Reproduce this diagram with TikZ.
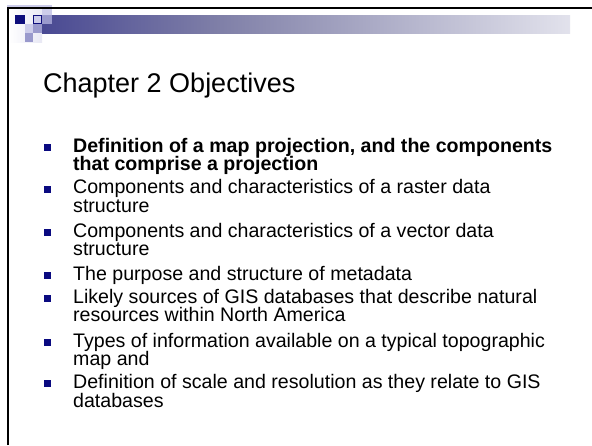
\documentclass[tikz,border=0pt]{standalone}
\usepackage{fontspec}
\setmainfont{Liberation Sans}
\definecolor{navy}{RGB}{14,14,124}
\definecolor{bulletnavy}{RGB}{10,10,128}
\definecolor{lilac}{RGB}{204,204,234}
\definecolor{lilacmid}{RGB}{153,153,204}
\definecolor{lilacpale}{RGB}{232,232,244}
\definecolor{barmid}{RGB}{128,128,168}
\definecolor{barpale}{RGB}{226,226,236}
\pgfdeclarehorizontalshading{barshade}{100bp}{color(0bp)=(navy); color(10bp)=(navy!90!barmid); color(42bp)=(barmid); color(75bp)=(barpale); color(100bp)=(white)}
\begin{document}
\begin{tikzpicture}[x=1pt,y=-1pt,
  titletext/.style={anchor=base west, inner sep=0pt, font=\fontsize{27}{30}\selectfont},
  itemtext/.style={anchor=base west, inner sep=0pt, font=\fontsize{19.6}{20}\selectfont},
  bolditem/.style={anchor=base west, inner sep=0pt, font=\fontsize{19.6}{20}\selectfont\bfseries},
  bulletsq/.style={fill=bulletnavy, draw=none, minimum size=7pt, inner sep=0pt}]
\useasboundingbox[fill=white] (0,0) rectangle (592,445);

% header ornament: pale corner field, gradient bar and tiles
\fill[left color=white, right color=lilacpale] (8.5,8.5) rectangle (42,42);
\fill[lilac] (7,4.5) rectangle (42,6.5);
\shade[shading=barshade] (42,15) rectangle (570,33);
\fill[lilac] (42,5) rectangle (52,15);
\fill[navy] (15,15) rectangle (25,24);
\fill[lilac, draw=navy, line width=0.8pt] (33.4,15.4) rectangle (41.6,23.6);
\fill[lilacmid] (42,15) rectangle (52,24);
\fill[lilac] (25,24) rectangle (33,33);
\fill[lilacmid] (33,24) rectangle (42,33);
\fill[lilacmid] (25,33) rectangle (33,42);

% frame lines
\draw[line width=2pt] (7.5,445) -- (7.5,7.5) -- (592,7.5);

% title
\node[titletext] (title) at (43,92) {Chapter 2 Objectives};

% bullets
\node[bulletsq] (b1) at (47.5,147.5) {};
\node[bulletsq] (b2) at (47.5,189) {};
\node[bulletsq] (b3) at (47.5,232.5) {};
\node[bulletsq] (b4) at (47.5,275.5) {};
\node[bulletsq] (b5) at (47.5,298.5) {};
\node[bulletsq] (b6) at (47.5,342.5) {};
\node[bulletsq] (b7) at (47.5,383.5) {};

% item lines
\node[bolditem] (t1a) at (73,152) {Definition of a map projection, and the components};
\node[bolditem] (t1b) at (73,170) {that comprise a projection};
\node[itemtext] (t2a) at (73,193.5) {Components and characteristics of a raster data};
\node[itemtext] (t2b) at (73,212.5) {structure};
\node[itemtext] (t3a) at (73,237) {Components and characteristics of a vector data};
\node[itemtext] (t3b) at (73,255.5) {structure};
\node[itemtext] (t4a) at (73,280) {The purpose and structure of metadata};
\node[itemtext] (t5a) at (73,303) {Likely sources of GIS databases that describe natural};
\node[itemtext] (t5b) at (73,321.5) {resources within North America};
\node[itemtext] (t6a) at (73,347) {Types of information available on a typical topographic};
\node[itemtext] (t6b) at (73,365.5) {map and};
\node[itemtext] (t7a) at (73,388) {Definition of scale and resolution as they relate to GIS};
\node[itemtext] (t7b) at (73,407) {databases};
\end{tikzpicture}
\end{document}
